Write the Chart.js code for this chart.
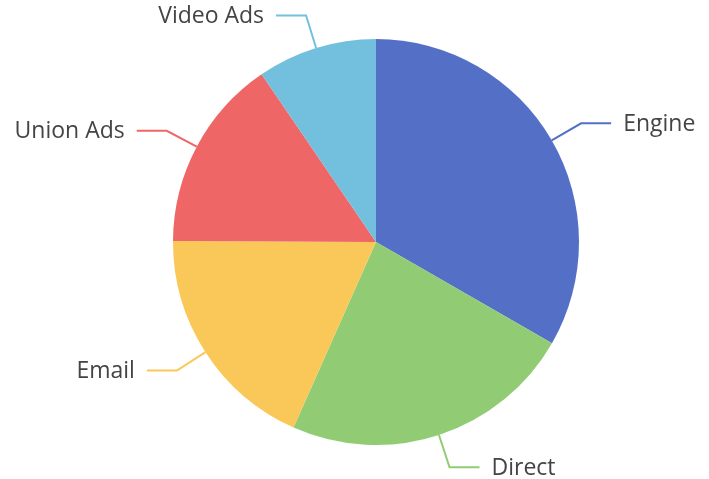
<!DOCTYPE html>
<html>
<head>
<meta charset="utf-8">
<script src="https://cdn.jsdelivr.net/npm/chart.js@4/dist/chart.umd.min.js"></script>
<style>
  html, body { margin: 0; padding: 0; background: #ffffff; }
  #wrap { width: 709px; height: 479px; position: relative; }
</style>
</head>
<body>
<div id="wrap"><canvas id="c" width="709" height="479"></canvas></div>
<script>
// Traffic sources
const categories = ['Engine', 'Direct', 'Email', 'Union Ads', 'Video Ads'];
const values = [1048, 735, 580, 484, 300];
const colors = ['#5470c6', '#91cc75', '#fac858', '#ee6666', '#73c0de'];

// Outside labels joined to each slice by a two-segment leader line
const sliceLabels = {
  id: 'sliceLabels',
  afterDatasetsDraw(chart) {
    const ctx = chart.ctx;
    const meta = chart.getDatasetMeta(0);
    ctx.save();
    meta.data.forEach((arc, i) => {
      const p = arc.getProps(['x', 'y', 'startAngle', 'endAngle', 'outerRadius'], true);
      const mid = (p.startAngle + p.endAngle) / 2;
      const cos = Math.cos(mid), sin = Math.sin(mid);
      const x0 = p.x + p.outerRadius * cos;
      const y0 = p.y + p.outerRadius * sin;
      const r1 = p.outerRadius + 34;
      const x1 = p.x + r1 * cos;
      const y1 = p.y + r1 * sin;
      const dir = cos >= 0 ? 1 : -1;
      const x2 = x1 + dir * 30;
      ctx.strokeStyle = colors[i];
      ctx.lineWidth = 2;
      ctx.beginPath();
      ctx.moveTo(x0, y0);
      ctx.lineTo(x1, y1);
      ctx.lineTo(x2, y1);
      ctx.stroke();
      ctx.fillStyle = '#444444';
      ctx.font = '23px "Open Sans", "Noto Sans", sans-serif';
      ctx.textBaseline = 'middle';
      ctx.textAlign = dir > 0 ? 'left' : 'right';
      ctx.fillText(categories[i], x2 + dir * 12, y1 + 1);
    });
    ctx.restore();
  }
};

new Chart(document.getElementById('c'), {
  type: 'pie',
  data: {
    labels: categories,
    datasets: [{
      data: values,
      backgroundColor: colors,
      borderWidth: 0
    }]
  },
  options: {
    responsive: false,
    animation: false,
    layout: { padding: { left: 173, right: 130, top: 39, bottom: 34 } },
    plugins: {
      legend: { display: false },
      tooltip: { enabled: false }
    }
  },
  plugins: [sliceLabels]
});
</script>
</body>
</html>
